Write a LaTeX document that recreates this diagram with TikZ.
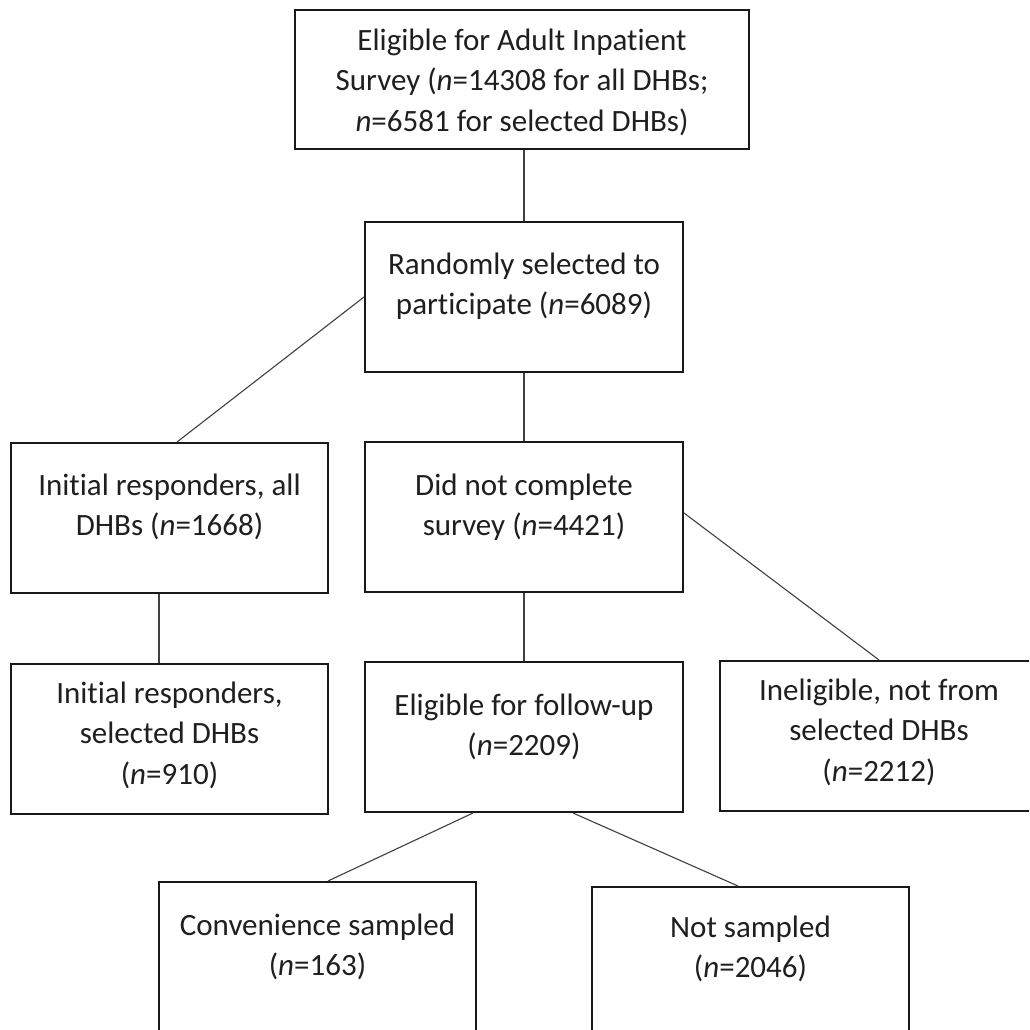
\documentclass[tikz,border=0pt]{standalone}
\usepackage{fontspec}
\setmainfont{Carlito}[Ligatures={NoCommon,NoRare,NoContextual}]
\usetikzlibrary{calc}
\newcommand{\fz}{\fontsize{31}{40.5}\selectfont}
\newcommand{\nolig}{\kern0pt\relax}
\begin{document}
\begin{tikzpicture}[x=1pt,y=-1pt,
  box/.style={draw=black!90, line width=2pt, minimum height=150pt, minimum width=318pt, inner sep=0pt, fill=white},
  lbl/.style={anchor=north, inner sep=0pt, align=center, font=\fz, text=black!88},
  conn/.style={draw=black!75, line width=1.1pt}]
\useasboundingbox[fill=white] (0,0) rectangle (1029,1030);
\begin{scope}
\clip (0,0) rectangle (1029,1030);
\node[box, minimum width=454pt, minimum height=139pt, label={[lbl,yshift=-12.65pt]north:{\strut Eligible for Adult Inpat\nolig ient\\Survey (\textit{n}=14308 for all DHBs;\\\textit{n}=6581 for selected DHBs)}}] (top) at (522,79.5) {};
\node[box, label={[lbl,yshift=-24.65pt]north:{\strut Randomly selected to\\part\nolig icipate (\textit{n}=6089)}}] (rand) at (524,297) {};
\node[box, minimum width=317pt, label={[lbl,yshift=-24.65pt]north:{\strut Initial responders, all\\DHBs (\textit{n}=1668)}}] (ia) at (169.5,518) {};
\node[box, label={[lbl,yshift=-25.65pt]north:{\strut Did not complete\\survey (\textit{n}=4421)}}] (dnc) at (524,517) {};
\node[box, minimum width=317pt, label={[lbl,yshift=-11.65pt]north:{\strut Initial responders,\\selected DHBs\\(\textit{n}=910)}}] (is) at (169.5,739) {};
\node[box, label={[lbl,yshift=-25.65pt]north:{\strut Eligible for follow-up\\(\textit{n}=2209)}}] (ef) at (524,737) {};
\node[box, label={[lbl,yshift=-11.65pt]north:{\strut Ineligible, not from\\selected DHBs\\(\textit{n}=2212)}}] (inel) at (879,736) {};
\node[box, minimum width=317pt, label={[lbl,yshift=-25.65pt]north:{\strut Convenience sampled\\(\textit{n}=163)}}] (conv) at (317.5,957) {};
\node[box, minimum width=317pt, label={[lbl,yshift=-22.65pt]north:{\strut Not sampled\\(\textit{n}=2046)}}] (ns) at (750.5,962) {};
\coordinate (ian) at ($(ia.north)+(7.5,0)$);
\coordinate (isn) at ($(is.north)+(-10.5,0)$);
\coordinate (dnce) at ($(dnc.east)+(0,-4)$);
\coordinate (efl) at ($(ef.south)+(-51,0)$);
\coordinate (efr) at ($(ef.south)+(49,0)$);
\coordinate (convn) at ($(conv.north)+(10.5,0)$);
\coordinate (nsn) at ($(ns.north)+(-12.5,0)$);
\draw[conn] (rand.north) -- (rand.north |- top.south);
\draw[conn] (rand.west) -- (ian);
\draw[conn] (dnc.north) -- (dnc.north |- rand.south);
\draw[conn] (isn) -- (isn |- ia.south);
\draw[conn] (ef.north) -- (ef.north |- dnc.south);
\draw[conn] (dnce) -- (inel.north);
\draw[conn] (efl) -- (convn);
\draw[conn] (efr) -- (nsn);
\end{scope}
\end{tikzpicture}
\end{document}
